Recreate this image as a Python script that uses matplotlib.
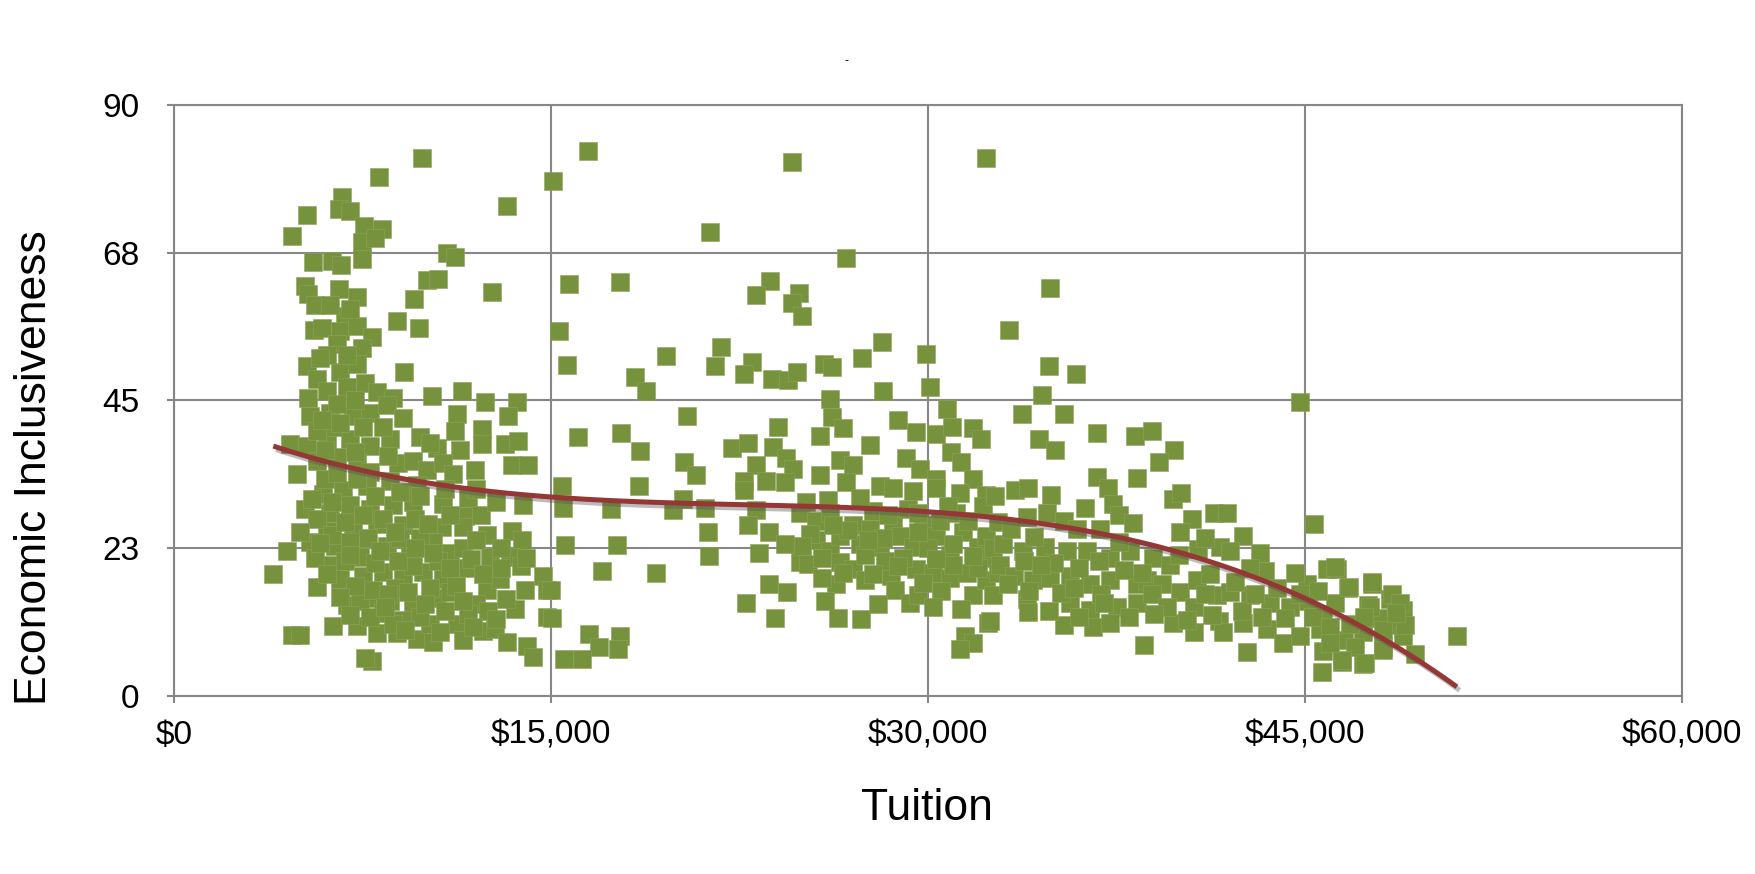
import matplotlib
matplotlib.use('Agg')
import matplotlib.pyplot as plt
import matplotlib.patheffects as pe
import numpy as np

plt.rcParams['font.family'] = ['Liberation Sans', 'DejaVu Sans']

# tuition in $ thousands, economic inclusiveness score
left_x = [9.85, 8.16, 13.24, 5.30, 6.68, 6.58, 7.00, 7.57, 8.29, 4.68,
          7.49, 7.47, 8.00, 5.54, 6.27, 6.63, 10.85, 11.18, 12.64, 5.21,
          5.35, 5.61, 6.58, 7.27, 10.05, 10.52, 9.55, 8.89, 9.75, 5.58,
          5.88, 6.80, 6.60, 7.27, 7.87, 7.47, 6.47, 9.15, 5.28, 5.68,
          6.60, 7.27, 7.60, 5.35, 6.07, 6.87, 8.06, 8.73, 10.25, 11.47,
          12.37, 13.63, 13.30, 11.25, 5.41, 6.21, 7.14, 7.80, 8.46, 9.12,
          11.18, 12.24, 12.24, 9.79, 10.45, 11.38, 13.17, 13.70, 13.43, 14.10,
          4.62, 5.28, 6.07, 7.00, 7.80, 8.59, 6.34, 5.68, 7.53, 8.93,
          9.52, 10.05, 10.72, 11.11, 11.98, 4.88, 5.68, 6.47, 7.27, 7.80,
          5.21, 5.94, 6.74, 7.67, 8.59, 9.66, 6.21, 7.00, 7.80, 8.73,
          9.52, 10.72, 11.71, 13.90, 11.58, 11.51, 10.65, 9.12, 8.06, 7.14,
          6.07, 5.41, 4.48, 3.95, 6.41, 7.40, 8.46, 9.39, 10.32, 10.98,
          12.44, 13.43, 13.83, 13.37, 12.57, 11.71, 6.21, 5.68, 6.60, 7.53,
          8.33, 9.12, 9.92, 10.72, 12.44, 12.97, 13.97, 14.70, 14.83, 6.87,
          7.67, 8.59, 9.52, 10.45, 10.98, 13.57, 14.83, 6.34, 7.27, 8.06,
          8.86, 9.66, 10.32, 10.19, 11.25, 11.51, 12.31, 12.77, 13.24, 14.03,
          14.30, 7.86, 4.68, 5.01, 9.12, 8.33, 7.40, 7.60]
left_y = [82.0, 79.0, 74.6, 73.3, 76.0, 74.2, 73.9, 71.6, 71.1, 70.1,
          69.1, 66.6, 69.7, 66.1, 66.3, 65.7, 67.4, 66.8, 61.5, 62.5,
          61.2, 59.6, 62.0, 60.7, 63.3, 63.5, 60.4, 57.1, 56.0, 55.8,
          56.1, 57.8, 55.6, 56.4, 54.6, 53.0, 53.6, 49.4, 50.2, 48.2,
          49.4, 50.5, 47.7, 45.4, 46.5, 47.1, 46.3, 45.4, 45.7, 46.5,
          44.8, 44.8, 42.6, 42.9, 42.6, 43.1, 42.6, 43.1, 44.3, 42.3,
          40.3, 40.6, 38.4, 39.5, 37.8, 37.5, 38.4, 38.9, 35.2, 35.2,
          38.4, 38.1, 38.7, 39.2, 38.1, 39.2, 40.9, 40.3, 40.9, 35.5,
          35.8, 34.4, 35.5, 33.8, 34.4, 33.8, 35.8, 36.4, 35.5, 34.1,
          28.5, 30.7, 31.3, 31.9, 32.7, 32.1, 27.9, 29.1, 28.5, 29.1,
          29.6, 29.3, 30.2, 29.1, 27.4, 25.7, 25.7, 26.0, 26.2, 25.7,
          25.1, 23.4, 22.0, 18.6, 22.8, 21.2, 22.8, 21.7, 23.4, 21.7,
          24.5, 25.1, 23.7, 21.2, 21.2, 19.5, 20.0, 16.6, 17.8, 18.3,
          18.9, 17.8, 18.9, 17.8, 16.1, 17.8, 16.1, 18.3, 16.1, 13.8,
          14.9, 14.4, 13.8, 14.9, 15.8, 13.2, 12.1, 10.7, 10.7, 9.6,
          9.6, 8.7, 8.2, 11.0, 11.0, 8.5, 9.9, 10.2, 8.2, 7.6,
          5.9, 5.4, 9.3, 9.3, 11.6, 12.7, 14.4, 5.8]

left_fill_x = [5.5, 6.0, 6.5, 7.3, 8.0, 8.3, 9.0, 9.8, 10.5, 11.5,
               8.0, 7.0, 6.8, 9.5, 10.2, 11.2, 8.8, 7.9, 12.0, 11.7,
               9.8, 8.7, 6.5, 7.2, 5.9, 6.6, 8.3, 7.2, 8.5, 6.0,
               5.7, 6.3, 9.0, 9.8, 10.8, 11.0, 12.2, 12.8, 12.0, 10.2,
               6.1, 6.9, 5.8, 7.0, 6.2,
               5.0, 5.6, 6.3, 7.0, 7.7, 8.2, 8.9, 9.6, 10.3, 11.0,
               11.8, 12.3, 13.0, 13.8, 6.1, 7.2, 8.5, 9.3, 10.0, 10.8,
               11.5, 12.5, 13.2, 7.0, 7.8, 8.4, 9.2, 10.6, 11.9, 12.8,
               6.8, 7.5, 8.8, 9.6, 10.1, 5.8, 13.0, 12.0, 14.0, 6.6]
left_fill_y = [30.0, 33.0, 34.0, 33.0, 30.5, 27.0, 24.0, 24.0, 20.5, 22.5,
               20.2, 23.5, 20.5, 19.8, 16.5, 16.8, 16.4, 16.2, 14.0, 12.5,
               12.0, 11.0, 44.5, 45.0, 42.0, 41.5, 41.0, 37.2, 36.5, 37.5,
               27.0, 29.5, 31.0, 30.5, 31.5, 27.5, 27.5, 29.5, 31.5, 38.5,
               52.0, 52.0, 51.5, 59.0, 59.5,
               25.0, 21.0, 24.5, 21.5, 24.0, 22.0, 20.5, 22.5, 21.8, 19.5,
               20.8, 18.5, 19.5, 19.8, 18.5, 16.8, 15.5, 15.8, 14.0, 13.0,
               14.5, 13.0, 14.8, 12.3, 12.0, 13.5, 10.0, 9.8, 10.5, 11.7,
               26.5, 27.5, 25.0, 27.0, 26.2, 23.3, 22.5, 23.8, 21.0, 15.0]

mid_x = [16.46, 15.07, 24.60, 32.30, 21.33, 26.75, 15.70, 17.76, 23.70, 23.14,
         24.86, 24.60, 25.00, 15.30, 15.64, 21.77, 21.54, 19.58, 22.99, 22.66,
         18.35, 18.76, 23.80, 24.43, 24.78, 25.85, 26.18, 27.39, 28.17, 29.93,
         28.20, 30.09, 26.08, 20.42, 16.09, 17.79, 18.52, 24.03, 26.18, 25.69,
         26.62, 27.68, 28.80, 29.53, 30.33, 30.76, 30.96, 31.79, 32.12, 30.93,
         31.33, 29.14, 29.67, 30.33, 31.79, 22.20, 22.83, 23.83, 24.36, 24.62,
         23.16, 22.66, 22.66, 23.56, 24.29, 20.31, 20.78, 25.69, 26.48, 27.01,
         26.75, 28.08, 28.61, 29.40, 30.33, 31.26, 32.32, 15.44, 15.46, 17.39,
         18.49, 19.85, 20.24, 21.13, 23.14, 22.83, 23.67, 21.24, 15.57, 17.63,
         21.28, 23.27, 17.03, 19.18, 24.89, 25.22, 24.89, 25.15, 25.55, 26.08,
         25.55, 26.08, 26.48, 27.01, 27.28, 27.68, 28.08, 28.61, 28.87, 29.40,
         29.80, 30.33, 30.86, 31.39, 32.00, 32.32, 32.45, 30.47, 31.13, 32.19,
         26.48, 27.01, 27.48, 26.35, 25.89, 26.42, 27.32, 28.54, 28.67, 29.27,
         29.60, 29.53, 30.20, 30.86, 31.53, 31.79, 31.33, 32.32, 32.59, 32.39,
         31.46, 31.79, 31.26, 23.66, 24.39, 22.77, 23.93, 15.00, 15.03, 16.53,
         17.76, 16.92, 17.66, 15.53, 16.22]
mid_y = [83.0, 78.4, 81.35, 82.0, 70.7, 66.65, 62.8, 63.0, 63.2, 61.0,
         61.3, 59.8, 57.8, 55.6, 50.4, 53.1, 50.3, 51.7, 50.9, 49.0,
         48.5, 46.4, 48.3, 48.1, 49.4, 50.5, 50.1, 51.5, 53.9, 52.1,
         46.4, 47.0, 45.2, 42.6, 39.5, 40.1, 37.3, 40.9, 42.5, 39.6,
         40.8, 38.2, 42.0, 40.2, 39.9, 43.7, 41.0, 40.8, 39.1, 37.1,
         35.7, 36.2, 34.5, 33.1, 33.1, 37.8, 38.5, 37.9, 36.2, 34.5,
         35.1, 32.8, 31.4, 32.8, 32.6, 35.7, 33.7, 33.7, 36.0, 35.1,
         32.6, 32.0, 31.7, 31.2, 31.7, 30.9, 30.6, 32.0, 28.6, 28.4,
         32.0, 28.3, 30.0, 28.6, 28.3, 26.1, 24.9, 24.9, 23.0, 23.0,
         21.3, 21.8, 19.0, 18.7, 20.4, 20.1, 27.8, 29.5, 26.6, 27.8,
         23.8, 22.1, 24.4, 26.1, 23.2, 25.5, 22.7, 26.6, 24.4, 22.7,
         26.1, 24.4, 21.5, 25.0, 22.7, 24.4, 21.0, 26.6, 27.8, 29.0,
         20.4, 19.3, 17.6, 17.0, 14.5, 11.9, 11.7, 18.2, 16.2, 14.2,
         15.3, 19.3, 18.7, 17.9, 18.7, 15.3, 13.3, 17.6, 15.3, 11.1,
         9.1, 8.0, 7.1, 17.0, 15.9, 14.2, 11.9, 16.2, 11.9, 9.4,
         9.1, 7.4, 7.1, 5.7, 5.7]

mid_fill_x = [27.5, 28.3, 29.0, 26.8, 27.8, 29.2, 30.8, 31.6, 30.0, 32.8,
              26.0, 27.3, 25.3, 31.0, 32.0, 28.2, 29.6,
              25.8, 26.6, 27.8, 28.8, 29.8, 30.5, 31.0, 31.8, 32.6, 25.0,
              26.2, 27.6, 28.4, 29.6, 30.3, 24.3, 25.8, 28.0, 30.2, 32.8]
mid_fill_y = [21.5, 20.5, 21.0, 25.3, 28.2, 28.5, 29.0, 26.6, 22.5, 26.5,
              29.8, 30.2, 24.6, 20.0, 19.5, 24.0, 25.0,
              21.0, 18.8, 18.5, 19.8, 17.2, 16.0, 23.2, 21.3, 22.5, 22.8,
              26.0, 23.8, 27.5, 27.8, 20.8, 23.2, 18.0, 14.0, 13.5, 18.8]

right_x = [34.85, 33.24, 34.83, 35.89, 34.52, 33.75, 35.41, 44.80, 36.74, 38.24,
           38.93, 39.80, 34.42, 35.04, 39.17, 38.33, 36.74, 37.14, 32.67, 33.46,
           33.99, 34.88, 36.26, 37.35, 37.60, 38.17, 39.73, 40.05, 40.49, 41.38,
           41.88, 42.55, 43.20, 43.40, 45.36, 40.03, 40.76, 41.62, 33.93, 34.72,
           35.39, 35.92, 36.84, 33.00, 33.79, 34.66, 35.52, 36.31, 37.24, 38.04,
           38.97, 39.63, 32.86, 33.40, 34.19, 34.85, 35.65, 36.45, 37.24, 38.30,
           38.70, 40.03, 40.69, 41.49, 42.02, 42.81, 43.60, 44.40, 45.07, 45.86,
           46.26, 46.72, 47.65, 48.38, 48.91, 33.93, 35.65, 36.45, 37.51, 38.30,
           32.47, 33.97, 35.39, 36.58, 37.24, 38.61, 39.73, 40.58, 41.59, 41.75,
           42.52, 42.68, 43.47, 44.14, 44.80, 45.60, 45.73, 45.66, 46.46, 47.32,
           46.53, 47.32, 48.12, 48.38, 48.91]
right_y = [62.1, 55.7, 50.3, 49.1, 45.9, 43.0, 43.0, 44.7, 40.0, 39.6,
           40.3, 37.5, 39.1, 37.5, 35.6, 33.2, 33.4, 31.6, 30.5, 31.3,
           31.6, 30.6, 28.7, 29.2, 27.5, 26.4, 30.0, 30.9, 26.9, 27.8,
           27.8, 24.4, 21.8, 19.0, 26.2, 24.9, 22.4, 22.7, 27.2, 27.8,
           26.6, 25.5, 25.5, 23.2, 22.1, 22.7, 22.1, 22.1, 21.0, 22.1,
           21.0, 19.9, 19.9, 18.2, 17.6, 17.9, 18.2, 17.0, 17.6, 17.0,
           17.6, 15.9, 17.6, 15.3, 15.9, 15.3, 14.2, 13.6, 17.0, 19.3,
           19.3, 16.5, 17.0, 14.8, 13.1, 14.8, 14.2, 13.1, 13.6, 14.2,
           11.4, 12.8, 10.8, 10.5, 11.1, 7.8, 11.1, 9.7, 11.4, 9.7,
           11.1, 6.7, 10.2, 8.0, 9.1, 10.2, 6.8, 3.7, 5.1, 4.9,
           8.5, 9.7, 7.4, 10.8, 9.1]

right_fill_x = [33.3, 34.2, 35.0, 36.0, 36.8, 37.8, 38.5, 39.3, 36.9, 35.3,
                34.0, 33.2, 38.9, 39.5, 40.6, 41.2, 42.2, 42.8, 43.9, 44.2,
                43.3, 41.3, 45.1, 45.7, 46.2, 46.8, 47.5, 47.9, 44.6, 45.5,
                40.0, 42.0, 41.0, 33.8, 37.6,
                34.5, 35.8, 37.0, 38.0, 39.0, 40.3, 41.0, 42.5, 43.0, 44.8,
                45.3, 46.0, 47.0, 36.0, 34.8]
right_fill_y = [25.5, 24.2, 20.2, 19.5, 20.5, 19.2, 18.8, 17.0, 15.5, 15.7,
                16.0, 17.0, 15.5, 13.5, 13.5, 18.5, 17.3, 19.5, 16.5, 11.8,
                12.0, 12.3, 14.5, 12.5, 14.2, 11.0, 13.8, 11.9, 18.8, 16.0,
                21.5, 22.0, 24.0, 20.5, 23.4,
                20.0, 16.5, 14.2, 12.0, 12.5, 11.5, 15.5, 13.0, 15.5, 15.5,
                12.0, 10.5, 7.5, 12.0, 13.0]

far_x = [46.20, 46.73, 47.66, 48.45, 48.79, 47.60, 48.99, 48.12, 47.33, 49.38,
         48.12, 47.40, 46.47, 46.00, 51.04, 48.60]
far_y = [19.6, 16.6, 17.4, 15.6, 14.1, 13.6, 10.8, 10.0, 12.1, 6.4,
         7.0, 5.0, 5.5, 8.1, 9.2, 12.7]

x_ticks = [0, 15, 30, 45, 60]
x_labels = ['$0', '$15,000', '$30,000', '$45,000', '$60,000']
y_ticks = [0, 22.5, 45, 67.5, 90]
y_labels = ['0', '23', '45', '68', '90']

tuition = np.array(left_x + left_fill_x + mid_x + mid_fill_x + right_x + right_fill_x + far_x)
incl = np.array(left_y + left_fill_y + mid_y + mid_fill_y + right_y + right_fill_y + far_y)

fig = plt.figure(figsize=(17.56, 8.74), dpi=100)
ax = fig.add_axes([0.0991, 0.2037, 0.8588, 0.6762])

ax.scatter(tuition, incl, marker='s', s=165, color='#76923C',
           edgecolors='#8DA35C', linewidths=0.4, zorder=3)

# polynomial trendline (order 3)
coef = np.polyfit(tuition, incl, 3)
xs = np.linspace(tuition.min(), tuition.max(), 400)
ax.plot(xs, np.polyval(coef, xs), color='#953735', lw=3.6, zorder=4,
        solid_capstyle='butt',
        path_effects=[pe.SimpleLineShadow(offset=(2, -2.5), shadow_color='#555555', alpha=0.4),
                      pe.Normal()])

ax.set_xlim(0, 60)
ax.set_ylim(0, 90)
ax.set_xticks(x_ticks)
ax.set_xticklabels(x_labels)
ax.set_yticks(y_ticks)
ax.set_yticklabels(y_labels)
ax.grid(True, color='#878787', lw=1.5)
ax.set_axisbelow(True)
for s in ax.spines.values():
    s.set_color('#878787')
    s.set_linewidth(1.5)
ax.tick_params(axis='both', length=5, width=1.5, color='#878787', labelsize=24)
ax.tick_params(axis='x', pad=12)
ax.tick_params(axis='y', pad=20)

fig.text(927 / 1756, 1 - 808 / 874, 'Tuition', fontsize=32, ha='center', va='center')
fig.text(35 / 1756, 1 - 468 / 874, 'Economic Inclusiveness', fontsize=32,
         rotation=90, ha='center', va='center')
fig.text(847 / 1756, 1 - 61 / 874, '-', fontsize=9, ha='center', va='center')

fig.savefig('out.png', dpi=100)
